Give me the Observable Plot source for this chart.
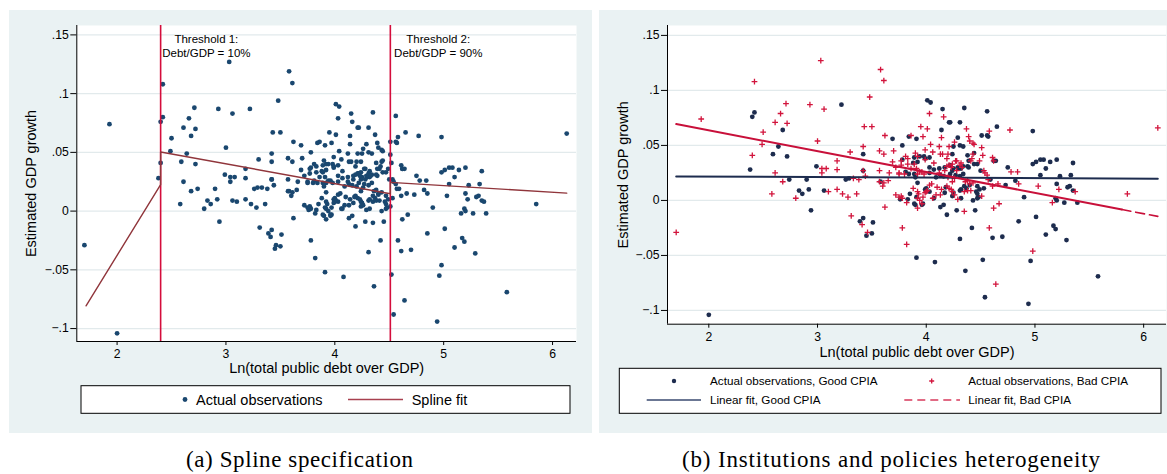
<!DOCTYPE html>
<html><head><meta charset="utf-8">
<script src="https://cdn.jsdelivr.net/npm/d3@7"></script>
<script src="https://cdn.jsdelivr.net/npm/@observablehq/plot@0.6"></script>
<style>
html,body{margin:0;padding:0;background:#fff;}
body{width:1167px;height:474px;position:relative;overflow:hidden;font-family:"Liberation Sans",Arial,sans-serif;}
.panel{position:absolute;background:#eaf2f3;}
.panel svg{position:absolute;left:0;top:0;}
#overlay{position:absolute;left:0;top:0;}
</style></head><body>
<div id="pa" class="panel" style="left:9px;top:10px;width:583px;height:423px"></div>
<div id="pb" class="panel" style="left:599px;top:10px;width:568px;height:423px"></div>
<svg id="overlay" width="1167" height="474" font-family="'Liberation Sans', Arial, sans-serif">
  <!-- legend a -->
  <rect x="81" y="385.7" width="489" height="27.6" fill="#fff" stroke="#000" stroke-width="1"/>
  <circle cx="185" cy="399.5" r="2.4" fill="#1a476f"/>
  <text x="196" y="404.6" font-size="14.5">Actual observations</text>
  <line x1="348" x2="403" y1="399.5" y2="399.5" stroke="#a8404f" stroke-width="1.4"/>
  <text x="411.7" y="404.6" font-size="14.5">Spline fit</text>
  <!-- legend b -->
  <rect x="619.3" y="368.3" width="541.7" height="45" fill="#fff" stroke="#000" stroke-width="1"/>
  <circle cx="674" cy="381" r="2.2" fill="#1d2c4e"/>
  <text x="710" y="385.1" font-size="11.7">Actual observations, Good CPIA</text>
  <path d="M929.2,381h5M931.7,378.5v5" stroke="#d2143c" stroke-width="1.3" fill="none"/>
  <text x="968.3" y="385.1" font-size="11.7">Actual observations, Bad CPIA</text>
  <line x1="646.7" x2="701" y1="400" y2="400" stroke="#3a4a70" stroke-width="1.3"/>
  <text x="710" y="404.1" font-size="11.7">Linear fit, Good CPIA</text>
  <line x1="904.3" x2="960" y1="400" y2="400" stroke="#d83a5c" stroke-width="1.3" stroke-dasharray="8,5"/>
  <text x="968.3" y="404.1" font-size="11.7">Linear fit, Bad CPIA</text>
  <!-- captions -->
  <text x="186" y="467" font-family="'Liberation Serif', 'Times New Roman', serif" font-size="23" textLength="227" lengthAdjust="spacing">(a) Spline specification</text>
  <text x="682" y="467" font-family="'Liberation Serif', 'Times New Roman', serif" font-size="23" textLength="418" lengthAdjust="spacing">(b) Institutions and policies heterogeneity</text>
</svg>
<script>
// ---------------- data ----------------
const goodObs = [[2.00,-0.104],[2.40,0.076],[2.42,0.080],[2.38,0.028],[2.68,0.064],[2.64,0.049],[2.59,0.042],[2.72,0.040],[2.74,0.019],[2.83,0.009],[2.86,0.006],[2.90,0.019],[2.92,0.010],[2.94,-0.009],[2.99,0.031],[3.06,0.009],[3.22,0.087],[3.26,0.019],[3.29,0.020],[3.39,-0.019],[3.42,-0.016],[3.51,-0.020],[3.45,-0.032],[3.50,-0.030],[3.42,0.042],[3.42,0.027],[3.58,0.017],[3.69,0.056],[3.78,0.050],[3.84,0.058],[3.91,0.056],[4.01,0.091],[4.04,0.089],[4.15,0.083],[4.21,0.071],[4.22,0.071],[4.31,0.071],[4.35,0.084],[4.14,0.064],[4.29,0.057],[4.31,0.050],[4.34,0.049],[3.89,0.039],[3.94,0.040],[3.98,0.040],[4.03,0.039],[4.24,0.042],[3.88,0.034],[3.92,0.035],[4.03,0.030],[4.17,0.030],[4.16,0.022],[4.24,0.027],[4.30,0.029],[3.89,0.024],[4.56,0.081],[4.65,0.067],[4.98,0.063],[4.51,0.059],[4.56,0.059],[4.57,0.058],[4.38,0.041],[4.44,0.043],[4.39,0.036],[4.44,0.033],[4.39,0.030],[4.62,0.036],[4.64,0.036],[4.75,0.030],[4.98,0.033],[5.01,0.035],[5.05,0.037],[5.08,0.037],[5.14,0.035],[5.20,0.037],[5.35,0.034],[5.10,0.029],[5.05,0.023],[5.23,0.022],[5.33,0.023],[4.34,0.024],[4.32,0.029],[5.20,0.015],[5.32,0.013],[5.30,0.012],[5.35,0.009],[5.19,0.002],[5.20,0.000],[5.27,-0.002],[5.39,-0.002],[4.90,0.003],[4.82,0.018],[4.73,0.014],[4.85,-0.019],[5.01,-0.015],[5.17,-0.023],[5.19,-0.026],[5.10,-0.031],[5.29,-0.036],[4.61,-0.034],[4.70,-0.033],[4.42,-0.025],[4.19,-0.013],[4.28,-0.009],[4.45,-0.009],[4.31,-0.035],[4.43,0.000],[3.91,-0.052],[4.08,-0.056],[4.36,-0.064],[4.52,-0.054],[4.54,-0.088],[4.96,-0.055],[4.94,-0.094],[5.58,-0.069],[4.13,-0.006],[4.16,-0.004],[3.90,-0.004],[3.96,-0.004],[3.83,0.001],[3.76,0.001],[3.85,0.006],[3.99,0.010],[4.31,0.009],[4.32,0.002],[4.47,0.006],[4.47,0.002],[4.53,0.011],[4.47,0.013],[4.50,0.027],[4.59,0.019],[4.49,0.010],[4.35,0.013],[4.37,0.011],[4.40,0.014],[4.32,0.010],[4.18,0.012],[4.17,0.007],[4.25,0.007],[4.24,0.004],[4.07,0.002],[4.00,0.011],[4.03,0.008],[3.97,-0.003],[3.89,-0.003],[3.91,0.003],[3.92,0.016],[3.90,0.021],[3.84,0.024],[3.81,0.026],[4.03,0.025],[4.07,0.028],[4.12,0.029],[4.22,0.032],[4.25,0.029],[4.29,0.030],[4.09,0.021],[4.13,0.023],[4.22,0.024],[4.27,0.023],[4.31,0.022],[4.34,0.031],[4.38,0.031],[4.47,0.033],[4.46,0.008],[4.48,0.003],[4.25,0.049],[3.78,0.037],[3.99,0.038]];

const badObs = [[1.70,-0.029],[1.93,0.074],[2.42,0.108],[2.50,0.062],[2.49,0.051],[2.40,0.041],[2.61,0.071],[2.66,0.079],[2.71,0.088],[2.72,0.070],[2.61,0.025],[2.68,0.017],[2.58,0.006],[2.80,0.002],[2.93,0.087],[3.03,0.127],[3.06,0.083],[3.00,0.054],[3.04,0.029],[3.04,0.025],[3.08,0.029],[3.10,0.008],[3.18,0.036],[3.18,0.028],[3.18,0.010],[3.23,0.006],[3.28,0.003],[3.30,0.044],[3.33,0.020],[3.36,0.006],[3.38,0.019],[3.31,-0.014],[3.41,-0.022],[3.46,-0.029],[3.42,0.049],[3.43,0.067],[3.50,0.067],[3.48,0.094],[3.58,0.119],[3.61,0.109],[3.62,0.059],[3.57,0.045],[3.61,0.042],[3.42,0.027],[3.44,0.022],[3.57,0.027],[3.60,0.013],[3.61,0.016],[3.62,-0.006],[3.65,0.018],[3.66,0.025],[3.70,0.045],[3.75,0.024],[3.69,0.035],[3.72,0.030],[3.77,0.036],[3.77,0.032],[3.81,0.040],[3.83,0.038],[3.90,0.043],[3.92,0.040],[3.86,0.059],[3.97,0.058],[3.95,0.067],[4.01,0.065],[4.03,0.079],[4.16,0.076],[4.14,0.057],[4.26,0.053],[4.04,0.051],[4.12,0.049],[4.21,0.049],[3.99,0.046],[4.06,0.044],[4.13,0.042],[4.15,0.042],[4.20,0.042],[4.19,0.038],[4.07,0.034],[3.99,0.037],[3.83,0.033],[3.91,0.029],[3.96,0.026],[3.92,0.024],[4.12,0.025],[4.21,0.032],[4.23,0.030],[4.17,0.027],[4.28,0.036],[4.31,0.032],[4.33,0.030],[4.20,0.021],[4.24,0.017],[4.26,0.020],[3.57,0.017],[4.37,0.065],[4.77,0.064],[4.58,0.063],[4.39,0.058],[4.40,0.054],[4.43,0.052],[4.44,0.051],[4.51,0.048],[4.43,0.042],[4.42,0.038],[4.41,0.036],[4.52,0.041],[4.49,0.036],[4.61,0.039],[4.62,0.036],[4.53,0.027],[4.54,0.025],[4.56,0.023],[4.78,0.026],[4.84,0.026],[6.13,0.066],[5.85,0.006],[5.37,0.008],[5.22,0.010],[5.16,-0.002],[5.03,0.013],[4.85,0.015],[4.67,-0.003],[4.62,-0.007],[4.58,-0.025],[3.78,-0.025],[3.82,-0.040],[4.35,-0.010],[4.64,-0.076],[4.98,-0.046],[3.92,-0.007],[3.82,-0.002],[3.92,0.002],[3.93,0.006],[3.72,0.005],[3.77,0.004],[3.78,0.002],[4.51,0.004],[4.61,0.013],[4.66,0.015],[4.57,0.019],[4.19,0.013],[4.21,0.011],[4.24,0.008],[4.26,0.005],[4.29,0.001],[4.14,0.010],[4.13,0.005],[4.06,0.002],[4.09,0.005],[4.03,0.014],[4.05,0.015],[4.01,0.009],[3.99,0.007],[3.97,0.003],[3.94,0.000],[3.96,-0.003],[3.88,0.011],[3.92,0.008],[3.75,0.003],[3.75,0.025],[3.80,0.024],[3.86,0.029],[3.89,0.033],[3.94,0.026],[3.98,0.024],[4.40,0.015],[4.43,0.016],[4.35,0.008],[4.38,0.009],[4.41,0.009],[4.19,0.031],[4.24,0.033],[4.27,0.036],[4.32,0.034],[4.28,0.027],[4.38,0.018],[4.36,0.017],[4.00,0.008],[4.10,0.012],[4.23,0.010]];

// spline fit (panel a)
const splineX = [1.715, 2.40, 2.40, 4.51, 4.51, 6.13];
const splineY = [-0.0806, 0.0225, 0.0503, 0.0148, 0.0245, 0.0153];
// thresholds
const thresholds = [2.40, 4.51];
const thrLabelX = [2.82, 4.95];
const thrLine1 = ["Threshold 1:", "Threshold 2:"];
const thrLine2 = ["Debt/GDP = 10%", "Debt/GDP = 90%"];
const thrLine1Y = 0.1463, thrLine2Y = 0.1344;
// linear fits (panel b)
const goodFitX = [1.70, 6.13];
const goodFitY = [0.0218, 0.0197];
const badFitX = [1.70, 5.80, 6.13];
const badFitY = [0.0694, -0.0083, -0.0145];
// ticks
const yTicks = [-0.1, -0.05, 0, 0.05, 0.1, 0.15];
const yTickLabels = ["\u2212.1", "\u2212.05", "0", ".05", ".1", ".15"];
const xTicks = [2, 3, 4, 5, 6];
const xTickLabels = ["2", "3", "4", "5", "6"];
const yTitle = "Estimated GDP growth";
const xTitle = "Ln(total public debt over GDP)";

// ---------------- build ----------------
const toPts = arr => arr.map(([x, y]) => ({x, y}));
const goodPts = toPts(goodObs), badPts = toPts(badObs);
const allPts = goodPts.concat(badPts);
const spline = splineX.map((x, i) => ({x, y: splineY[i]}));
const goodFit = goodFitX.map((x, i) => ({x, y: goodFitY[i]}));
const badFit = badFitX.map((x, i) => ({x, y: badFitY[i]}));
const thrLabels = thrLabelX.flatMap((x, i) => [{x, y: thrLine1Y, t: thrLine1[i]}, {x, y: thrLine2Y, t: thrLine2[i]}]);

const font = "'Liberation Sans', Arial, sans-serif";
const gridColor = "#e2eaec";
const yFmt = d => yTickLabels[yTicks.findIndex(v => Math.abs(v - d) < 1e-9)];
const xFmt = d => xTickLabels[xTicks.indexOf(d)];

const xDomA = [1.63, 6.22], yDomA = [-0.111, 0.158];
const chartA = Plot.plot({
  width: 583, height: 372,
  marginLeft: 67.3, marginRight: 16, marginTop: 15, marginBottom: 41,
  x: {domain: xDomA}, y: {domain: yDomA},
  style: {background: "transparent", fontFamily: font, fontSize: "12.2px", color: "#000", overflow: "visible"},
  marks: [
    Plot.frame({fill: "white", stroke: "none"}),
    Plot.ruleY(yTicks, {stroke: gridColor, strokeWidth: 1.3}),
    Plot.dot(allPts, {x: "x", y: "y", r: 2.4, fill: "#1a476f", stroke: "none"}),
    Plot.ruleX(thresholds, {stroke: "#d40d3c", strokeWidth: 1.6}),
    Plot.line(spline, {x: "x", y: "y", stroke: "#90353b", strokeWidth: 1.4}),
    Plot.ruleX([xDomA[0]], {stroke: "#000", strokeWidth: 1}),
    Plot.ruleY([yDomA[0]], {stroke: "#000", strokeWidth: 1}),
    Plot.axisY({ticks: yTicks, tickFormat: yFmt, tickSize: 6, tickPadding: 2, label: null}),
    Plot.axisX({ticks: xTicks, tickFormat: xFmt, tickSize: 4, tickPadding: 4, label: null}),
    Plot.text([yTitle], {text: d => d, frameAnchor: "left", dx: -45, rotate: -90, fontSize: 14.5, textAnchor: "middle", lineAnchor: "middle"}),
    Plot.text([xTitle], {text: d => d, frameAnchor: "bottom", dy: 27, fontSize: 14.5, lineAnchor: "middle"}),
    Plot.text(thrLabels, {x: "x", y: "y", text: "t", fontSize: 11.5, lineAnchor: "middle"})
  ]
});
document.getElementById("pa").appendChild(chartA);

const xDomB = [1.62, 6.21], yDomB = [-0.1125, 0.159];
const chartB = Plot.plot({
  width: 568, height: 352,
  marginLeft: 68, marginRight: 1, marginTop: 15, marginBottom: 38.3,
  x: {domain: xDomB}, y: {domain: yDomB},
  style: {background: "transparent", fontFamily: font, fontSize: "12.2px", color: "#000", overflow: "visible"},
  marks: [
    Plot.frame({fill: "white", stroke: "none"}),
    Plot.ruleY(yTicks, {stroke: gridColor, strokeWidth: 1.3}),
    Plot.dot(goodPts, {x: "x", y: "y", r: 2.4, fill: "#1d2c4e", stroke: "none"}),
    Plot.dot(badPts, {x: "x", y: "y", r: 2.0, symbol: "plus", stroke: "#d2143c", strokeWidth: 1.3}),
    Plot.line(goodFit, {x: "x", y: "y", stroke: "#1d2c4e", strokeWidth: 2}),
    Plot.line(badFit.slice(0, 2), {x: "x", y: "y", stroke: "#c8103a", strokeWidth: 2}),
    Plot.line(badFit.slice(1), {x: "x", y: "y", stroke: "#c8103a", strokeWidth: 1.6, strokeDasharray: "9,5"}),
    Plot.ruleX([xDomB[0]], {stroke: "#000", strokeWidth: 1}),
    Plot.ruleY([yDomB[0]], {stroke: "#000", strokeWidth: 1}),
    Plot.axisY({ticks: yTicks, tickFormat: yFmt, tickSize: 6, tickPadding: 2, label: null}),
    Plot.axisX({ticks: xTicks, tickFormat: xFmt, tickSize: 4, tickPadding: 4, label: null}),
    Plot.text([yTitle], {text: d => d, frameAnchor: "left", dx: -44, rotate: -90, fontSize: 14.5, textAnchor: "middle", lineAnchor: "middle"}),
    Plot.text([xTitle], {text: d => d, frameAnchor: "bottom", dy: 28, fontSize: 14.5, lineAnchor: "middle"})
  ]
});
document.getElementById("pb").appendChild(chartB);
</script>
</body></html>
